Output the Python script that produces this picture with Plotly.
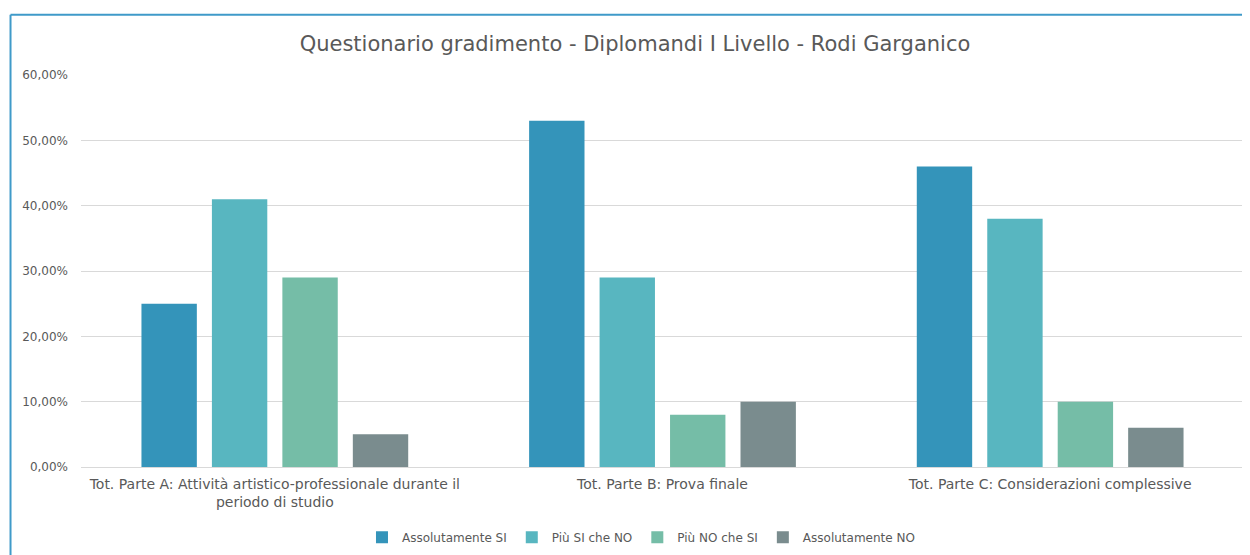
import plotly.graph_objects as go

# categories and series (values in %)
categories = [
    "Tot. Parte A: Attività artistico-professionale durante il<br>periodo di studio",
    "Tot. Parte B: Prova finale",
    "Tot. Parte C: Considerazioni complessive",
]
assolutamente_si = [25, 53, 46]
piu_si_che_no = [41, 29, 38]
piu_no_che_si = [29, 8, 10]
assolutamente_no = [5, 10, 6]

series_names = ["Assolutamente SI", "Più SI che NO", "Più NO che SI", "Assolutamente NO"]
COLORS = ["#3494BA", "#58B6C0", "#75BDA7", "#7A8C8E"]

y_ticks = [0, 10, 20, 30, 40, 50, 60]
y_ticktext = [f"{v:.2f}%".replace(".", ",") for v in y_ticks]

fig = go.Figure()
for name, vals, col in zip(series_names,
                           [assolutamente_si, piu_si_che_no, piu_no_che_si, assolutamente_no],
                           COLORS):
    fig.add_trace(go.Bar(x=categories, y=vals, name=name, marker_color=col,
                         marker_line_width=0))

TEXT = "#595959"
GRID = "#D9D9D9"

fig.update_layout(
    width=1250, height=555,
    font=dict(family="DejaVu Sans", color=TEXT, size=12),
    paper_bgcolor="white", plot_bgcolor="white",
    title=dict(text="Questionario gradimento - Diplomandi I Livello - Rodi Garganico",
               x=0.5016, xref="container", xanchor="center",
               y=0.935, yref="container", yanchor="middle",
               font=dict(size=21, color=TEXT)),
    barmode="group", bargap=0.273, bargroupgap=0.214,
    margin=dict(l=73, r=14, t=67, b=95),
    xaxis=dict(showgrid=False, showline=True, linecolor=GRID, linewidth=1,
               ticks="", ticklabelstandoff=4, tickfont=dict(size=14, color=TEXT)),
    yaxis=dict(range=[0, 60], tickvals=y_ticks, ticktext=y_ticktext,
               showgrid=True, gridcolor=GRID, gridwidth=1, zeroline=False,
               showline=False, ticks="", ticklabelstandoff=12,
               tickfont=dict(size=12, color=TEXT)),
    legend=dict(orientation="h", x=0.4815, xanchor="center", y=-0.176, yanchor="middle",
                font=dict(size=12, color=TEXT), itemwidth=30),
    showlegend=True,
)

# chart-area border (top and left edges visible in the original)
fig.add_shape(type="line", xref="paper", yref="paper",
              x0=-0.0606, x1=1.1, y0=1.154, y1=1.154,
              line=dict(color="#3F9AC9", width=2))
fig.add_shape(type="line", xref="paper", yref="paper",
              x0=-0.0606, x1=-0.0606, y0=1.154, y1=-0.3,
              line=dict(color="#3F9AC9", width=2))

fig.write_html("out.html")
